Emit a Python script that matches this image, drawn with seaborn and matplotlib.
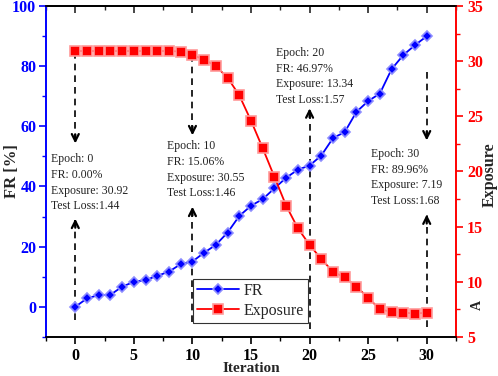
import numpy as np
import pandas as pd
import matplotlib
matplotlib.use("Agg")
import matplotlib.pyplot as plt
from matplotlib.ticker import MultipleLocator
import seaborn as sns

# ---- data ----
iteration = list(range(31))
fr = [0.0, 2.8, 3.9, 4.0, 6.7, 8.3, 8.9, 10.3, 11.7, 14.2, 15.06,
      18.0, 20.6, 24.7, 30.2, 33.6, 35.8, 39.4, 42.9, 45.6, 46.97,
      50.3, 56.1, 58.1, 64.8, 68.4, 70.9, 79.0, 83.7, 87.0, 89.96]
exposure = [30.92, 30.92, 30.92, 30.92, 30.92, 30.92, 30.92, 30.92, 30.92, 30.87, 30.55,
            30.15, 29.55, 28.5, 26.9, 24.6, 22.1, 19.5, 16.9, 14.85, 13.34,
            12.06, 10.9, 10.4, 9.55, 8.55, 7.5, 7.27, 7.2, 7.12, 7.19]

# annotation boxes
note_epochs = [0, 10, 20, 30]
note_fr = ["0.00%", "15.06%", "46.97%", "89.96%"]
note_exposure = ["30.92", "30.55", "13.34", "7.19"]
note_loss = ["1.44", "1.46", "1.57", "1.68"]
note_xy = [(-2.1, 51.0), (7.8, 55.3), (17.1, 86.3), (25.2, 52.8)]
# dashed arrows (x, start, tip) in FR units
arrows = [(0, 84.7, 54.3), (0, -4.3, 29.3),
          (10, 83.7, 57.0), (10, -5.0, 33.3),
          (20, -7.3, 66.0),
          (30, 78.0, 55.3), (30, -6.7, 30.7)]

df = pd.DataFrame({"Iteration": iteration, "FR": fr, "Exposure": exposure})

sns.set_style("ticks")
plt.rcParams["font.family"] = ["Liberation Serif", "DejaVu Serif"]

BLUE = "#0000ff"
RED = "#ff0000"

fig = plt.figure(figsize=(4.98, 3.76), dpi=100)
ax = fig.add_axes([0.0924, 0.104, 0.8233, 0.88])
ax2 = ax.twinx()

sns.lineplot(data=df, x="Iteration", y="FR", ax=ax, color=BLUE, lw=1.3,
             marker="D", markersize=5.5, markerfacecolor=BLUE,
             markeredgecolor="#8c8cff", markeredgewidth=1.2, label="FR", legend=False)
sns.lineplot(data=df, x="Iteration", y="Exposure", ax=ax2, color=RED, lw=1.3,
             marker="s", markersize=6.5, markerfacecolor=RED,
             markeredgecolor="#ff9a9a", markeredgewidth=1.2, label="Exposure", legend=False)

# dashed arrows
for x, y0, y1 in arrows:
    ax.plot([x, x], [y0, y1], ls=(0, (4, 3)), color="black", lw=1.2, zorder=1)
    ax.annotate("", xy=(x, y1), xytext=(x, y1 + (3 if y1 < y0 else -3)),
                arrowprops=dict(arrowstyle="->,head_length=0.5,head_width=0.25",
                                color="black", lw=1.6, shrinkA=0, shrinkB=0))

# text notes
for (tx, ty), ep, f, e, l in zip(note_xy, note_epochs, note_fr, note_exposure, note_loss):
    ax.text(tx, ty, f"Epoch: {ep}\nFR: {f}\nExposure: {e}\nTest Loss:{l}",
            fontsize=8.5, va="top", ha="left", linespacing=1.4, color="#222222")

# axes limits / ticks
ax.set_xlim(-2.5, 32.5)
ax.set_ylim(-10, 100)
ax2.set_ylim(5, 35)
ax.xaxis.set_major_locator(MultipleLocator(5))
ax.xaxis.set_minor_locator(MultipleLocator(2.5))
ax.yaxis.set_major_locator(MultipleLocator(20))
ax.yaxis.set_minor_locator(MultipleLocator(10))
ax2.yaxis.set_major_locator(MultipleLocator(5))
ax2.yaxis.set_minor_locator(MultipleLocator(2.5))

ax.tick_params(axis="x", which="both", direction="out", colors="black", labelsize=11.5)
ax.tick_params(axis="x", which="major", length=5, width=1.2, pad=3)
ax.tick_params(axis="x", which="minor", length=3, width=1.0)
ax.tick_params(axis="y", which="both", direction="out", colors=BLUE, labelsize=11.5)
ax.tick_params(axis="y", which="major", length=5, width=1.2, pad=2)
ax.tick_params(axis="y", which="minor", length=3, width=1.0)
ax2.tick_params(axis="y", which="both", direction="out", colors=RED, labelsize=11.5)
ax2.tick_params(axis="y", which="major", length=5, width=1.2, pad=3)
ax2.tick_params(axis="y", which="minor", length=3, width=1.0)

top = ax.secondary_xaxis("top")
top.xaxis.set_major_locator(MultipleLocator(5))
top.xaxis.set_minor_locator(MultipleLocator(2.5))
top.tick_params(which="both", direction="in", labeltop=False)
top.tick_params(which="major", length=5, width=1.2)
top.tick_params(which="minor", length=3, width=1.0)
top.spines["top"].set_linewidth(1.2)

for lab in ax.get_xticklabels() + ax.get_yticklabels() + ax2.get_yticklabels():
    lab.set_fontweight("bold")

for a in (ax, ax2):
    for s in a.spines.values():
        s.set_linewidth(1.2)
    a.spines["left"].set_color(BLUE)
    a.spines["right"].set_color(RED)
    a.spines["top"].set_color("black")
    a.spines["bottom"].set_color("black")

ax.set_xlabel("Iteration", fontsize=11, fontweight="bold")
ax.set_ylabel("FR [%]", fontsize=12, fontweight="bold")
ax2.set_ylabel("Exposure", fontsize=11.5, fontweight="bold")
ax.xaxis.set_label_coords(0.5, -0.077)
ax.yaxis.set_label_coords(-0.083, 0.5)
ax2.yaxis.set_label_coords(1.083, 0.49)
ax.xaxis.label.set_va("top")
ax.yaxis.label.set_va("center")
ax2.yaxis.label.set_va("center")

# stray rotated glyph on the right side
fig.text(0.958, 0.19, "A", rotation=90, fontsize=10, fontweight="bold",
         ha="center", va="center")

# legend
h1, l1 = ax.get_legend_handles_labels()
h2, l2 = ax2.get_legend_handles_labels()
leg = ax2.legend(h1 + h2, l1 + l2, loc="lower left", bbox_to_anchor=(0.3585, 0.042),
                 borderaxespad=0, fontsize=11.5, fancybox=False, frameon=True,
                 handlelength=2.6, handletextpad=0.3, borderpad=0.25, labelspacing=0.25)
leg.get_frame().set_edgecolor("black")
leg.get_frame().set_linewidth(0.8)

fig.savefig("out.png", dpi=100)
